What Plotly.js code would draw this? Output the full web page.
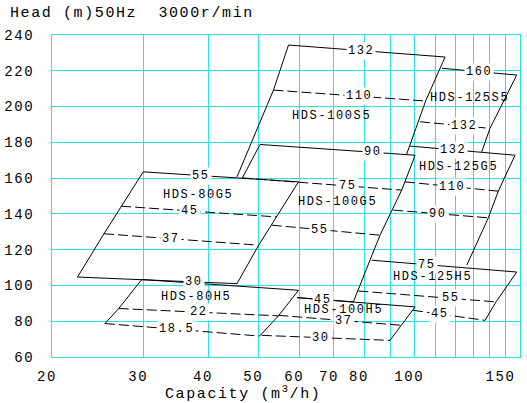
<!DOCTYPE html>
<html><head><meta charset="utf-8">
<script src="https://cdn.plot.ly/plotly-3.0.1.min.js"></script>
<style>
html,body{margin:0;padding:0;background:#fff;}
#chart{width:527px;height:403px;}
svg text{letter-spacing:1.6px;}
</style></head><body><div id="chart"></div>
<script>
// ---- axis ticks ----
const xTickVals = [20,30,40,50,60,70,80,90,100,110,120,130,140,150,160];
const xTickText = ['20','30','40','50','60','70','80','','100','','','','','150',''];
const yTickVals = [60,80,100,120,140,160,180,200,220,240];
const yTickText = ['\u00A060','\u00A080','100','120','140','160','180','200','220','240'];

// ---- pump models: power lines (kW) with left/right end points (Q m3/h, H m) ----
const m80G5_kw = ['55','45','37','30'];
const m80G5_qL = [30.0,27.2,25.2,22.4];
const m80G5_hL = [163.5,144.3,128.9,104.7];
const m80G5_qR = [59.8,54.3,50.1,45.5];
const m80G5_hR = [157.9,138.3,122.5,101.0];

const m80H5_kw = ['30','22','18.5'];
const m80H5_qL = [29.8,26.9,25.3];
const m80H5_hL = [103.3,87.1,78.7];
const m80H5_qR = [59.8,54.7,50.3];
const m80H5_hR = [97.3,83.0,71.7];

const m100S5_kw = ['132','110'];
const m100S5_qL = [57.2,53.5];
const m100S5_hL = [234.4,209.2];
const m100S5_qR = [114.7,105.2];
const m100S5_hR = [227.7,203.1];
const m100S5_edgeEndL = [45.5,160.7];
const m100S5_edgeEndR = [96.7,173.4];

const m100G5_kw = ['90','75','55','45'];
const m100G5_qL = [50.4,46.6,53.1,59.4];
const m100G5_hL = [178.8,160.1,133.7,93.2];
const m100G5_qR = [100.4,94.6,85.9,76.3];
const m100G5_hR = [172.8,153.3,128.1,90.8];

const m100H5_kw = ['45','37','30'];
const m100H5_qL = [59.4,54.7,50.8];
const m100H5_hL = [93.2,83.3,72.1];
const m100H5_qR = [100.4,94.6,89.8];
const m100H5_hR = [88.0,77.7,69.3];

const m125S5_kw = ['160','132'];
const m125S5_qL = [113.0,102.6];
const m125S5_hL = [221.4,191.5];
const m125S5_qR = [157.7,140.0];
const m125S5_hR = [217.6,187.8];
const m125S5_edgeEndR = [135.0,174.7];

const m125G5_kw = ['132','110','90'];
const m125G5_qL = [98.2,96.0,91.1];
const m125G5_hL = [177.9,157.9,142.1];
const m125G5_qR = [156.5,145.3,139.0];
const m125G5_hR = [172.8,152.7,137.8];
const m125G5_edgeEndR = [126.3,111.3];

const m125H5_kw = ['75','55','45'];
const m125H5_qL = [82.8,78.0,99.5];
const m125H5_hL = [114.1,96.9,86.1];
const m125H5_qR = [157.7,143.8,137.0];
const m125H5_hR = [107.5,90.8,80.5];

const modelNames = ['HDS-80G5','HDS-80H5','HDS-100S5','HDS-100G5','HDS-100H5','HDS-125S5','HDS-125G5','HDS-125H5'];
const modelNameQ = [38.3,38.0,69.1,71.1,72.9,128.1,121.5,108.5];
const modelNameH = [150.5,93.6,194.7,146.7,86.1,204.6,166.3,104.7];

// ---- drawing style (not data) ----
const FONT = 'Liberation Mono, DejaVu Sans Mono, monospace';
const GRID = '#2ee0e6';
const DASH = '10px,4px';
const models = [
  {kw:m80G5_kw,qL:m80G5_qL,hL:m80G5_hL,qR:m80G5_qR,hR:m80G5_hR,solid:[0,3],left:4,extL:null,right:true,extR:null,lab:[0.37,0.44,0.43,0.73]},
  {kw:m80H5_kw,qL:m80H5_qL,hL:m80H5_hL,qR:m80H5_qR,hR:m80H5_hR,solid:[0],left:3,extL:null,right:true,extR:null,lab:[null,0.50,0.46]},
  {kw:m100S5_kw,qL:m100S5_qL,hL:m100S5_hL,qR:m100S5_qR,hR:m100S5_hR,solid:[0],left:2,extL:m100S5_edgeEndL,right:true,extR:m100S5_edgeEndR,lab:[0.46,0.56]},
  {kw:m100G5_kw,qL:m100G5_qL,hL:m100G5_hL,qR:m100G5_qR,hR:m100G5_hR,solid:[0,3],left:2,extL:null,right:true,extR:null,lab:[0.73,0.66,0.45,0.46]},
  {kw:m100H5_kw,qL:m100H5_qL,hL:m100H5_hL,qR:m100H5_qR,hR:m100H5_hR,solid:[0],left:0,extL:null,right:true,extR:null,lab:[null,0.53,0.46]},
  {kw:m125S5_kw,qL:m125S5_qL,hL:m125S5_hL,qR:m125S5_qR,hR:m125S5_hR,solid:[0],left:0,extL:null,right:true,extR:m125S5_edgeEndR,lab:[0.50,0.63]},
  {kw:m125G5_kw,qL:m125G5_qL,hL:m125G5_hL,qR:m125G5_qR,hR:m125G5_hR,solid:[0],left:0,extL:null,right:true,extR:m125G5_edgeEndR,lab:[0.41,0.50,0.47]},
  {kw:m125H5_kw,qL:m125H5_qL,hL:m125H5_hL,qR:m125H5_qR,hR:m125H5_hR,solid:[0],left:0,extL:null,right:true,extR:null,lab:[0.38,0.67,0.375]}
];

const traces = [];
const annotations = [];
function seg(x,y,dash){
  traces.push({x:x,y:y,mode:'lines',type:'scatter',hoverinfo:'skip',showlegend:false,
    line:{color:'#000',width:1,dash:dash||'solid'}});
}
models.forEach(m=>{
  m.kw.forEach((k,i)=>{
    seg([m.qL[i],m.qR[i]],[m.hL[i],m.hR[i]], m.solid.includes(i)?'solid':DASH);
    const t = m.lab[i];
    if(t!==null){
      const lq = Math.pow(10, Math.log10(m.qL[i]) + t*(Math.log10(m.qR[i])-Math.log10(m.qL[i])));
      const lh = m.hL[i] + t*(m.hR[i]-m.hL[i]);
      annotations.push({x:Math.log10(lq),y:lh,xref:'x',yref:'y',text:k,showarrow:false,
        xanchor:'center',yanchor:'middle',bgcolor:'#fff',borderpad:1,
        font:{family:FONT,size:12,color:'#000'}});
    }
  });
  if(m.left>0){
    const x=m.qL.slice(0,m.left), y=m.hL.slice(0,m.left);
    if(m.extL){x.push(m.extL[0]);y.push(m.extL[1]);}
    seg(x,y);
  }
  if(m.right){
    const x=m.qR.slice(), y=m.hR.slice();
    if(m.extR){x.push(m.extR[0]);y.push(m.extR[1]);}
    seg(x,y);
  }
});
modelNames.forEach((n,i)=>{
  annotations.push({x:Math.log10(modelNameQ[i]),y:modelNameH[i],xref:'x',yref:'y',text:n,showarrow:false,
    xanchor:'center',yanchor:'middle',font:{family:FONT,size:12,color:'#000'}});
});
annotations.push({x:(131.5-52)/468,y:(357-14)/322,xref:'paper',yref:'paper',text:'Head (m)50Hz  3000r/min',
  showarrow:false,xanchor:'center',yanchor:'middle',font:{family:FONT,size:15,color:'#000'}});
annotations.push({x:(243-52)/468,y:(357-393)/322,xref:'paper',yref:'paper',text:'Capacity (m<sup>3</sup>/h)',
  showarrow:false,xanchor:'center',yanchor:'middle',font:{family:FONT,size:15,color:'#000'}});

const layout = {
  width:527,height:403,margin:{l:52,r:7,t:35,b:46},
  paper_bgcolor:'#fff',plot_bgcolor:'#fff',showlegend:false,
  xaxis:{type:'log',range:[Math.log10(20),Math.log10(160)],tickmode:'array',tickvals:xTickVals,ticktext:xTickText,
    showgrid:true,gridcolor:GRID,gridwidth:1,showline:true,linecolor:GRID,linewidth:1,mirror:true,
    ticks:'',zeroline:false,ticklabelshift:-5,ticklabelstandoff:6,tickfont:{family:FONT,size:14,color:'#000'}},
  yaxis:{range:[60,240],tickmode:'array',tickvals:yTickVals,ticktext:yTickText,
    showgrid:true,gridcolor:GRID,gridwidth:1,showline:true,linecolor:GRID,linewidth:1,mirror:true,
    ticks:'',zeroline:false,ticklabelshift:3.5,ticklabelstandoff:14,tickfont:{family:FONT,size:14,color:'#000'}},
  annotations:annotations
};
Plotly.newPlot('chart',traces,layout,{displayModeBar:false,staticPlot:true});
</script></body></html>
